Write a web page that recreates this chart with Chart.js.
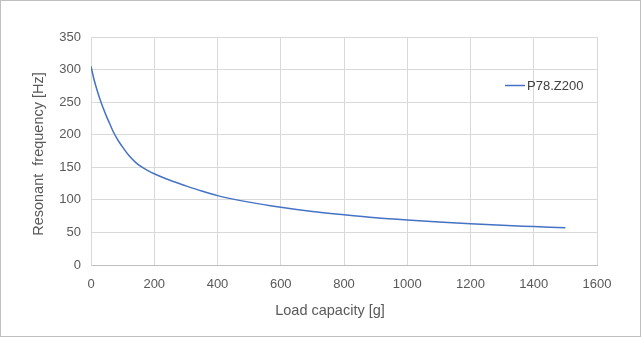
<!DOCTYPE html>
<html>
<head>
<meta charset="utf-8">
<script src="https://cdn.jsdelivr.net/npm/chart.js@4/dist/chart.umd.min.js"></script>
<style>
  html, body { margin: 0; padding: 0; background: #fff; }
  #wrap { width: 641px; height: 337px; position: relative; }
</style>
</head>
<body>
<div id="wrap"><canvas id="c" width="641" height="337"></canvas></div>
<script>
// Load capacity [g] and resonant frequency [Hz] for P78.Z200
const loadGrams = [0, 10, 20, 30, 40, 50, 60, 70, 80, 90, 100, 120, 140, 160, 180, 200,
  250, 300, 350, 400, 500, 600, 700, 800, 900, 1000, 1100, 1200, 1300, 1400, 1500];
const frequencyHz = [305, 284, 267, 252, 239, 227, 216, 205, 196, 188, 181, 168, 158, 150.5, 145, 140,
  130, 121.5, 113.5, 106.5, 96.5, 88.5, 82, 77, 72.5, 69, 66, 63.3, 61, 59, 57];
const seriesName = 'P78.Z200';
const xTicks = [0, 200, 400, 600, 800, 1000, 1200, 1400, 1600];
const yTicks = [0, 50, 100, 150, 200, 250, 300, 350];
const xTitle = 'Load capacity [g]';
const yTitle = 'Resonant  frequency [Hz]';

const FONT = '"Liberation Sans", Arial, sans-serif';
const GRID = '#d9d9d9';
const TEXT = '#595959';

// Axis titles, legend entry inside the plot, and the outer chart frame
const frameAndLegend = {
  id: 'frameAndLegend',
  afterDraw(chart) {
    const ctx = chart.ctx;
    const ds = chart.data.datasets[0];
    ctx.save();
    // legend
    ctx.strokeStyle = ds.borderColor;
    ctx.lineWidth = 1.5;
    ctx.beginPath();
    ctx.moveTo(505, 85.5);
    ctx.lineTo(525, 85.5);
    ctx.stroke();
    ctx.fillStyle = '#404040';
    ctx.font = '13px ' + FONT;
    ctx.textBaseline = 'middle';
    ctx.textAlign = 'left';
    ctx.fillText(ds.label, 527, 86);
    // axis titles
    ctx.fillStyle = TEXT;
    ctx.font = '14.5px ' + FONT;
    ctx.textAlign = 'center';
    ctx.fillText(xTitle, 330, 311);
    ctx.translate(39, 154);
    ctx.rotate(-Math.PI / 2);
    ctx.fillText(yTitle, 0, 0);
    ctx.setTransform(1, 0, 0, 1, 0, 0);
    // frame
    ctx.strokeStyle = '#bfbfbf';
    ctx.lineWidth = 1;
    ctx.strokeRect(0.5, 0.5, chart.width - 1, chart.height - 1);
    ctx.restore();
  }
};

new Chart(document.getElementById('c'), {
  type: 'line',
  data: {
    datasets: [{
      label: seriesName,
      data: loadGrams.map((g, i) => ({ x: g, y: frequencyHz[i] })),
      borderColor: '#4472c4',
      borderWidth: 1.5,
      pointRadius: 0,
      fill: false,
      cubicInterpolationMode: 'monotone'
    }]
  },
  options: {
    responsive: false,
    animation: false,
    layout: { padding: { left: 0, top: 37, right: 44, bottom: 0 } },
    plugins: { legend: { display: false }, tooltip: { enabled: false } },
    scales: {
      x: {
        type: 'linear',
        min: xTicks[0],
        max: xTicks[xTicks.length - 1],
        afterBuildTicks(scale) { scale.ticks = xTicks.map(v => ({ value: v })); },
        afterFit(scale) { scale.height = 72; },
        grid: { color: GRID, drawTicks: false, lineWidth: 1 },
        border: { color: '#bfbfbf', width: 1 },
        ticks: {
          color: TEXT, font: { family: FONT, size: 13 }, padding: 12, maxRotation: 0,
          callback: v => String(v)
        }
      },
      y: {
        min: yTicks[0],
        max: yTicks[yTicks.length - 1],
        afterBuildTicks(scale) { scale.ticks = yTicks.map(v => ({ value: v })); },
        afterFit(scale) { scale.width = 91; },
        grid: { color: GRID, drawTicks: false, lineWidth: 1 },
        border: { color: GRID, width: 1 },
        ticks: { color: TEXT, font: { family: FONT, size: 13 }, padding: 10, callback: v => String(v) }
      }
    }
  },
  plugins: [frameAndLegend]
});
</script>
</body>
</html>
